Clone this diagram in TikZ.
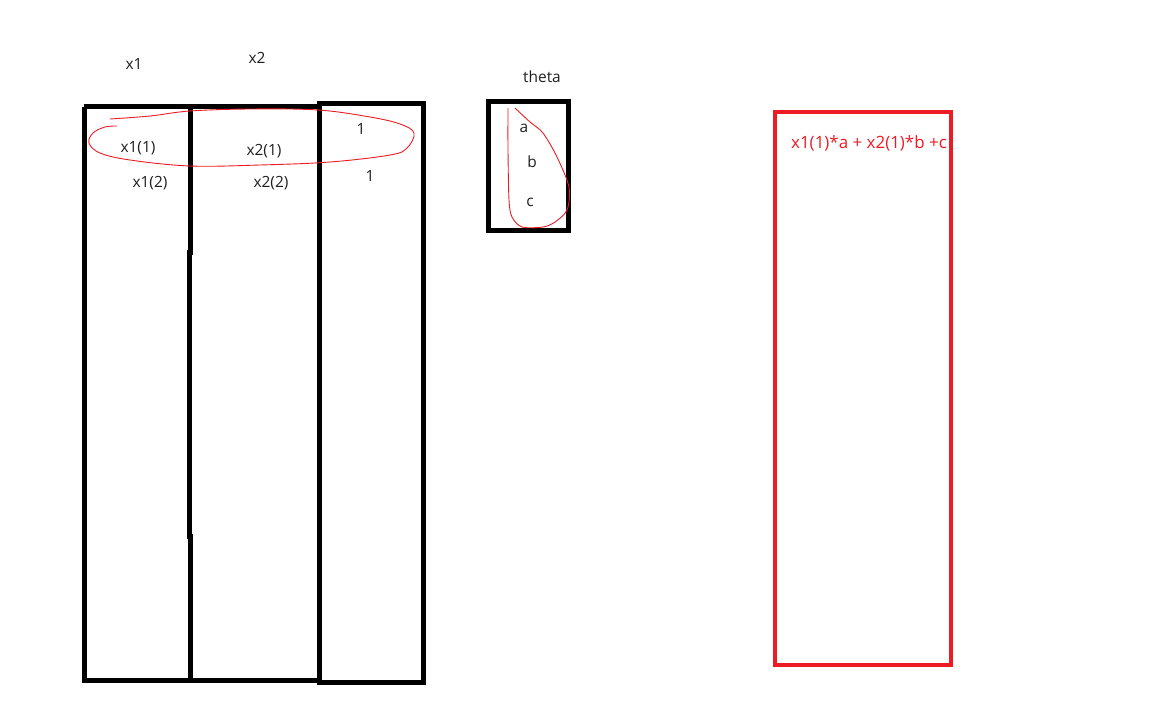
\documentclass[tikz,border=0pt]{standalone}
\usepackage{fontspec}
\setmainfont{Open Sans}
\definecolor{pred}{RGB}{237,28,36}
\definecolor{ink}{RGB}{30,30,30}
\begin{document}
\begin{tikzpicture}[x=1bp,y=-1bp,
  lbl/.style={font=\fontsize{15.5}{18}\selectfont,text=ink,inner sep=0pt},
  rlbl/.style={font=\fontsize{17}{20}\selectfont,text=pred,inner sep=0pt},
  thick box/.style={draw=black,line width=5bp},
  redbox/.style={draw=pred,line width=4.5bp},
  loop/.style={draw=pred,line width=0.9bp}]
\useasboundingbox (0,0) rectangle (1152,720);
% big matrix
\draw[thick box] (84,107) -- (84,680) -- (318,680);
\draw[thick box] (84,107) -- (318,107);
\draw[thick box] (190,107) -- (190,252) -- (189,252) -- (189,536) -- (190,536) -- (190,680);
\draw[thick box] (319,104) rectangle (423,682);
% theta box
\draw[thick box] (488,102) rectangle (568,230);
% result box
\draw[redbox] (775,112) rectangle (951,665);
% labels
\node[lbl] (x1) at (134,64) {x1};
\node[lbl] (x2) at (257,58) {x2};
\node[lbl] (theta) at (542,77) {theta};
\node[lbl] (x11) at (138,148) {x1(1)};
\node[lbl] (x21) at (264,151) {x2(1)};
\node[lbl] (one1) at (361,129) {1};
\node[lbl] (x12) at (150,183) {x1(2)};
\node[lbl] (x22) at (271,183) {x2(2)};
\node[lbl] (one2) at (370,176) {1};
\node[lbl] (a) at (524,128) {a};
\node[lbl] (b) at (532,162) {b};
\node[lbl] (c) at (530,202) {c};
\node[rlbl] (res) at (869,143) {x1(1)*a + x2(1)*b +c};
% freehand loops
\draw[loop] plot[smooth,tension=0.6] coordinates {(110,119) (150,116) (190,111) (250,109) (318,110) (370,117) (400,124) (414,133) (407,148) (390,155) (330,162) (260,165) (190,166) (130,160) (100,153) (89,143) (93,133) (105,127) (117,126)};
\draw[loop] plot[smooth,tension=0.5] coordinates {(515,108) (530,122) (543,133) (557,157) (569,187) (567,210) (555,222) (543,227) (522,227) (512,217) (509,200) (508,150) (508,108)};
\end{tikzpicture}
\end{document}
